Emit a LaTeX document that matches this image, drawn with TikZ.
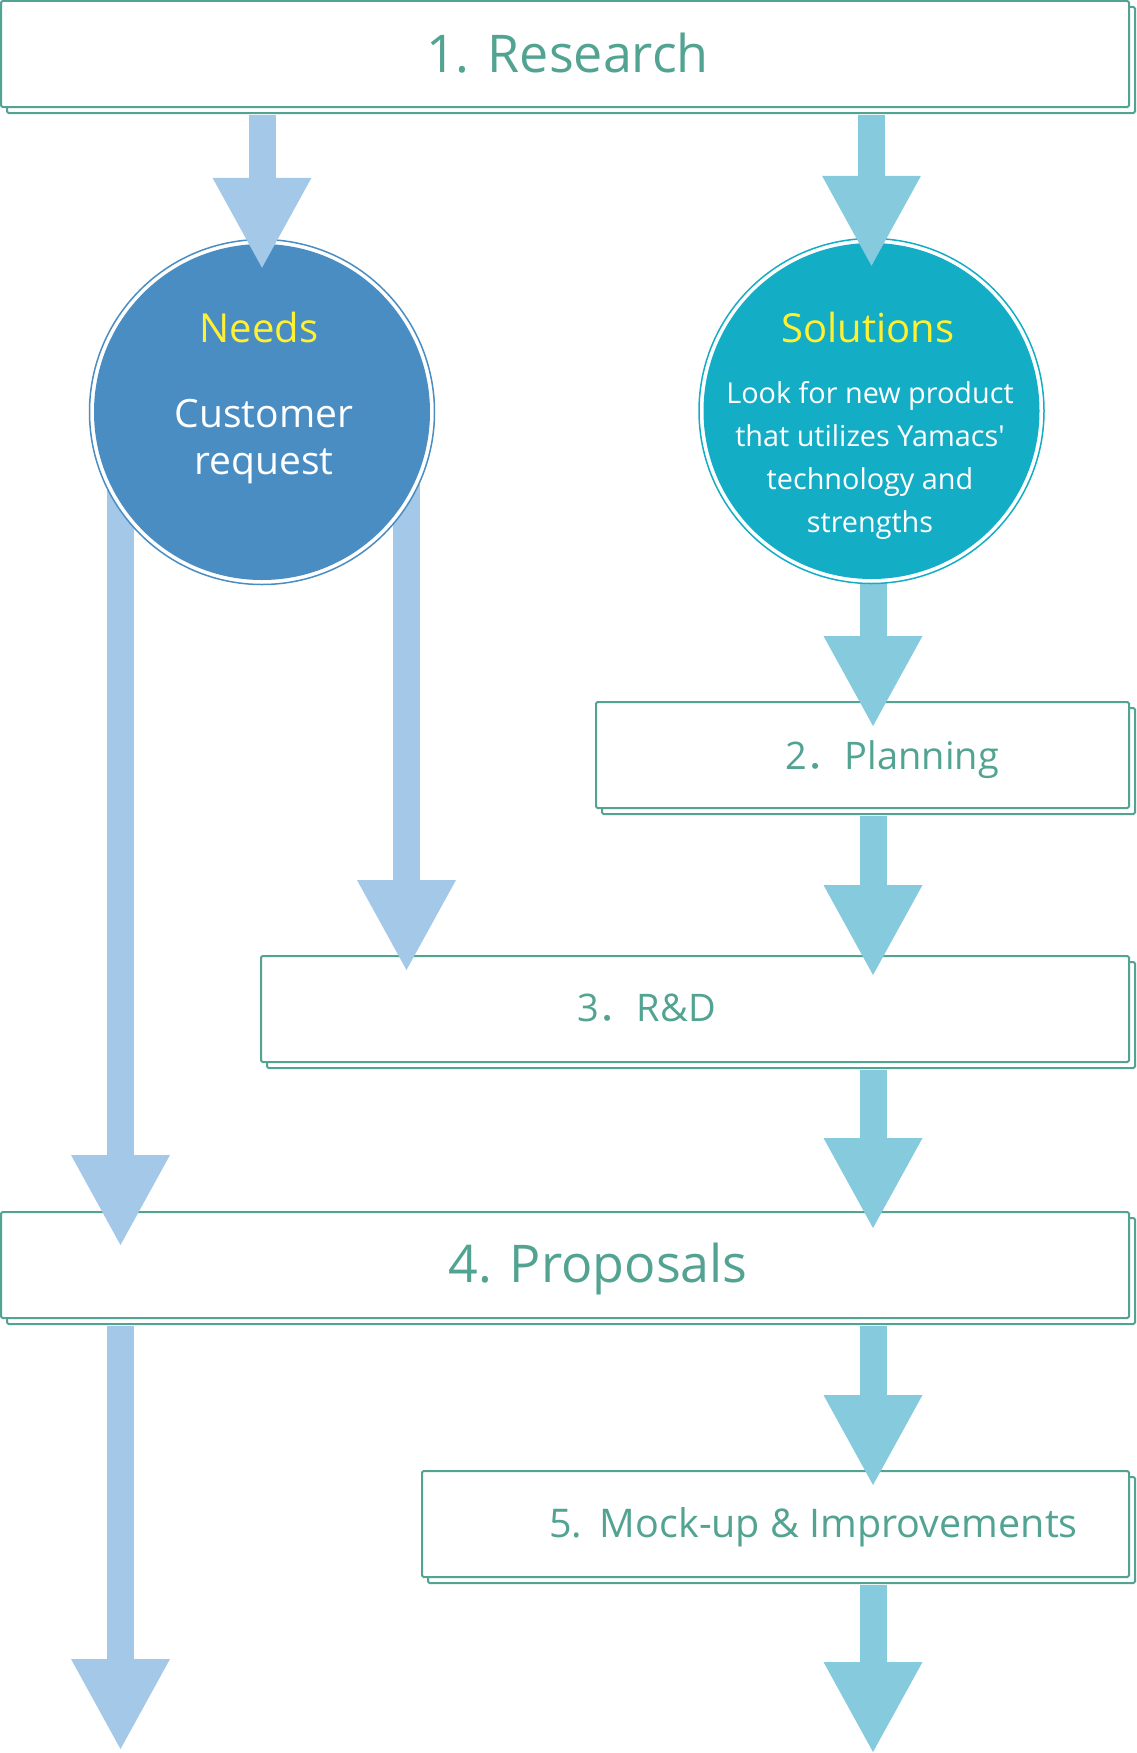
\documentclass[tikz,border=0pt]{standalone}
\usepackage{fontspec}
\setmainfont{Open Sans}
\newfontfamily\straightq{Open Sans}[Ligatures=TeXOff]
\newfontfamily\cjk{Noto Sans CJK JP}
\usetikzlibrary{arrows.meta,shadows,calc}
\definecolor{boxcol}{RGB}{82,163,145}
\definecolor{leftarr}{RGB}{163,200,232}
\definecolor{rightarr}{RGB}{134,202,221}
\definecolor{needcol}{RGB}{74,141,195}
\definecolor{solcol}{RGB}{20,173,198}
\definecolor{yel}{RGB}{255,240,50}
\begin{document}
\begin{tikzpicture}[x=1pt,y=-1pt,
  stepbox/.style={draw=boxcol,line width=2pt,fill=white,rounded corners=1.5pt,inner sep=0pt,
    minimum height=106pt,copy shadow={shadow xshift=6pt,shadow yshift=-6pt}},
  bigtxt/.style={text=boxcol,font=\fontsize{52}{60}\selectfont,anchor=base,inner sep=0pt},
  midtxt/.style={text=boxcol,font=\fontsize{38}{44}\selectfont,anchor=base,inner sep=0pt},
  larrow/.style={draw=leftarr,line width=27pt,-{Triangle[width=99pt,length=90pt,line width=0pt]}},
  rarrow/.style={draw=rightarr,line width=27pt,-{Triangle[width=99pt,length=90pt,line width=0pt]}},
  ring/.style={circle,inner sep=0pt,minimum size=345pt,line width=1.5pt,fill=white},
  ttl/.style={text=yel,font=\fontsize{40}{48}\selectfont,anchor=base,inner sep=0pt},
  bodybig/.style={text=white,font=\fontsize{39}{46}\selectfont,anchor=base,inner sep=0pt},
  bodysmall/.style={text=white,font=\fontsize{28.8}{34}\selectfont,anchor=base,inner sep=0pt}]
\fill[white] (0,0) rectangle (1136,1753);
\useasboundingbox (0,0) rectangle (1136,1753);
\coordinate (rcol) at (873,0);
\coordinate (lcol) at (120.5,0);
\coordinate (mcol) at (406.5,0);
\coordinate (rend) at (873,1752);
\coordinate (lend) at (120.5,1749);
% boxes
\node[stepbox,minimum width=1128pt] (research) at (565,54) {};
\node[stepbox,minimum width=533pt] (planning) at (862.5,755) {};
\node[stepbox,minimum width=868pt] (rnd) at (695,1009) {};
\node[stepbox,minimum width=1128pt] (proposals) at (565,1265) {};
\node[stepbox,minimum width=707pt] (mockup) at (775.5,1524) {};
% box labels
\node[bigtxt] (researchlbl) at (567.5,72) {1. Research};
\node[midtxt] (planninglbl) at (892,769) {2{\cjk ．}Planning};
\node[midtxt] (rndlbl) at (646.5,1021) {3{\cjk ．}R\&D};
\node[bigtxt] (proposalslbl) at (598,1282) {4. Proposals};
\node[midtxt,font=\fontsize{39.5}{46}\selectfont] (mockuplbl) at (813.5,1537) {5.\hspace{0.1em} Mock-up \& Improvements};
% circle centres
\path (262,412) coordinate (needsc) (871.5,411) coordinate (solc);
% arrows behind circles
\draw[larrow] (needsc -| lcol) -- ($(proposals.north -| lcol)+(0,34)$);
\draw[larrow] (needsc -| mcol) -- ($(rnd.north -| mcol)+(0,15)$);
\draw[rarrow] (solc -| rcol) -- ($(planning.north -| rcol)+(0,25)$);
% circles
\node[ring,draw=needcol] (needs) at (needsc) {};
\fill[needcol] (needs.center) circle (168pt);
\node[ring,draw=solcol] (solutions) at (solc) {};
\fill[solcol] (solutions.center) circle (168pt);
% circle texts
\node[ttl] (needsttl) at (259,342) {Needs};
\node[bodybig] (cust1) at (264,427) {Customer};
\node[bodybig] (cust2) at (264,474) {request};
\node[ttl] (solttl) at (868,342) {Solutions};
\node[bodysmall] (sol1) at (870,403) {Look for new product};
\node[bodysmall] (sol2) at (870,446) {that utilizes Yamacs{\straightq '}};
\node[bodysmall] (sol3) at (870,489) {technology and};
\node[bodysmall] (sol4) at (870,532) {strengths};
% arrows on top
\draw[larrow] ($(research.south -| needs.north)+(0,7)$) -- ($(needs.north)+(0,29)$);
\draw[rarrow] ($(research.south -| solutions.north)+(0,7)$) -- ($(solutions.north)+(0,28)$);
\draw[rarrow] ($(planning.south -| rcol)+(0,7)$) -- ($(rnd.north -| rcol)+(0,20)$);
\draw[rarrow] ($(rnd.south -| rcol)+(0,7)$) -- ($(proposals.north -| rcol)+(0,17)$);
\draw[rarrow] ($(proposals.south -| rcol)+(0,7)$) -- ($(mockup.north -| rcol)+(0,15)$);
\draw[rarrow] ($(mockup.south -| rcol)+(0,7)$) -- (rend);
\draw[larrow] ($(proposals.south -| lcol)+(0,7)$) -- (lend);
\end{tikzpicture}
\end{document}
